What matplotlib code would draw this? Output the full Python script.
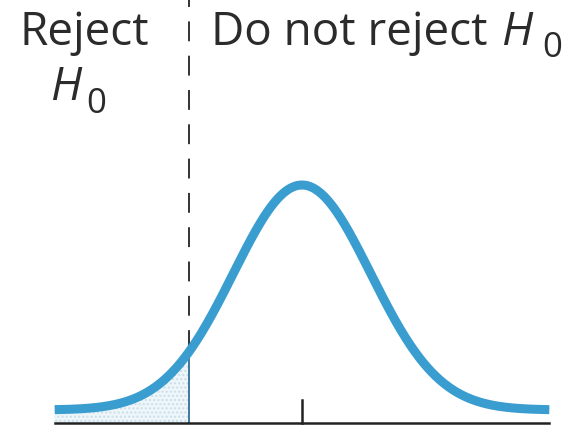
import matplotlib.pyplot as plt
import numpy as np

# standard normal curve, left-tailed test at alpha = 0.05
z_crit = -1.645
z_left, z_right = -3.6, 3.6
z_center = 0.0

curve_color = "#3a9dd0"
text_color = "#2b2b2b"

W, H, DPI = 571, 429, 100
px_per_z = 68.7      # horizontal pixels per standard deviation
px_per_y = 564.0     # vertical pixels per density unit
x0_px, base_px = 302, 410


def pdf(z):
    return np.exp(-z ** 2 / 2) / np.sqrt(2 * np.pi)


fig = plt.figure(figsize=(W / DPI, H / DPI), dpi=DPI)
ax = fig.add_axes([0, 0, 1, 1])
ax.set_xlim(-x0_px / px_per_z, (W - x0_px) / px_per_z)
ax.set_ylim(-(H - base_px) / px_per_y, base_px / px_per_y)
ax.axis("off")

axis_y = -13 / px_per_y

z = np.linspace(z_left, z_right, 600)
y = pdf(z)

# rejection region
zt = z[z <= z_crit]
ax.fill_between(zt, axis_y, pdf(zt), facecolor="#eef6fa", edgecolor="#c9dfe9",
                hatch="....", linewidth=0)
ax.plot([z_crit, z_crit], [axis_y, pdf(z_crit)], color="#2f6e93", lw=1.3, zorder=3)

ax.plot(z, y, color=curve_color, lw=6.5, solid_capstyle="butt", zorder=4)

# horizontal axis and center tick
ax.plot([z_left, z_right], [axis_y, axis_y], color="#222222", lw=1.8, zorder=5)
ax.plot([z_center, z_center], [axis_y, axis_y + 23 / px_per_y], color="#222222", lw=1.8, zorder=5)

# dashed divider between regions
ax.plot([z_crit, z_crit], [pdf(z_crit) + 2 / px_per_y, base_px / px_per_y], color="#222222",
        lw=1.3, linestyle=(0, (11, 8)), zorder=2)

font = "Open Sans"
fs = 33
fs_sub = 25


def label(x, y, s, size=fs, style="normal", ha="left"):
    fig.text(x / W, 1 - y / H, s, fontsize=size, family=font, style=style,
             color=text_color, ha=ha, va="baseline")


label(84.5, 45, "Reject", ha="center")
label(50, 100, "H", style="italic")
label(86, 113, "0", size=fs_sub)

label(211, 45, "Do not reject")
label(501, 45, "H", style="italic")
label(542, 57, "0", size=fs_sub)

fig.savefig("out.png", dpi=DPI)
